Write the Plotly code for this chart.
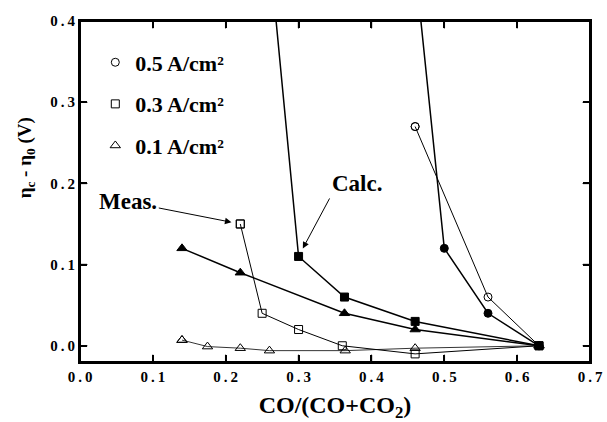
import plotly.graph_objects as go

# Measured (open markers)
meas05_x = [0.46, 0.56, 0.63]
meas05_y = [0.27, 0.06, 0.0]
meas03_x = [0.22, 0.25, 0.30, 0.36, 0.46, 0.63]
meas03_y = [0.15, 0.04, 0.02, 0.0, -0.01, 0.0]
meas01_x = [0.14, 0.175, 0.22, 0.26, 0.364, 0.46, 0.63]
meas01_y = [0.007, -0.001, -0.003, -0.006, -0.006, -0.003, 0.0]

# Calculated (filled markers)
calc05_x = [0.461, 0.50, 0.56, 0.63]
calc05_y = [0.46, 0.12, 0.04, 0.0]
calc03_x = [0.25, 0.30, 0.363, 0.46, 0.63]
calc03_y = [0.58, 0.11, 0.06, 0.03, 0.0]
calc01_x = [0.14, 0.22, 0.363, 0.46, 0.63]
calc01_y = [0.12, 0.09, 0.04, 0.02, 0.0]

legend_labels = ["0.5 A/cm²", "0.3 A/cm²", "0.1 A/cm²"]
symbols = ["circle", "square", "triangle-up"]

x_ticks = [0.0, 0.1, 0.2, 0.3, 0.4, 0.5, 0.6, 0.7]
y_ticks = [0.0, 0.1, 0.2, 0.3, 0.4]
x_range = [0.0, 0.7]
y_range = [-0.02, 0.4]

W, H = 607, 422
ML, MR, MT, MB = 80, 17, 21, 60
TICKLEN = 7

FONT = "Liberation Serif"
TS = "\u2009"
fig = go.Figure()

def add(x, y, sym, filled, lw):
    fig.add_trace(go.Scatter(
        x=x, y=y, mode="lines+markers", showlegend=False,
        line=dict(color="black", width=lw),
        marker=dict(symbol=sym if filled else sym + "-open",
                    size=8 if sym != "triangle-up" else 9,
                    color="black", line=dict(color="black", width=1)),
    ))

add(meas05_x, meas05_y, "circle", False, 1.0)
add(meas03_x, meas03_y, "square", False, 1.0)
add(meas01_x, meas01_y, "triangle-up", False, 0.8)
add(calc05_x, calc05_y, "circle", True, 1.5)
add(calc03_x, calc03_y, "square", True, 1.5)
add(calc01_x, calc01_y, "triangle-up", True, 1.5)

# legend entries (marker only), placed on the first measured point of each series
meas_first = [(meas05_x[0], meas05_y[0]), (meas03_x[0], meas03_y[0]), (meas01_x[0], meas01_y[0])]
for i, (lab, sym) in enumerate(zip(legend_labels, symbols)):
    fig.add_trace(go.Scatter(
        x=[meas_first[i][0]], y=[meas_first[i][1]], mode="markers",
        name="<b>" + lab + "</b>", legendgroup="g%d" % i,
        marker=dict(symbol=sym + "-open", size=8 if sym != "triangle-up" else 9,
                    color="black", line=dict(color="black", width=1)),
    ))

# frame and inside ticks drawn through the axes
px_x = (W - ML - MR) / (x_range[1] - x_range[0])
px_y = (H - MT - MB) / (y_range[1] - y_range[0])
dx = TICKLEN / px_x
dy = TICKLEN / px_y
fx = [x_range[0], x_range[1], x_range[1], x_range[0], x_range[0]]
fy = [y_range[0], y_range[0], y_range[1], y_range[1], y_range[0]]
tx, ty = [], []
for v in x_ticks:
    if x_range[0] < v < x_range[1]:
        tx += [v, v, None, v, v, None]
        ty += [y_range[0], y_range[0] + dy, None, y_range[1], y_range[1] - dy, None]
for v in y_ticks:
    if y_range[0] < v < y_range[1]:
        tx += [x_range[0], x_range[0] + dx, None, x_range[1], x_range[1] - dx, None]
        ty += [v, v, None, v, v, None]
fig.add_trace(go.Scatter(x=tx, y=ty, mode="lines+markers", showlegend=False,
                         line=dict(color="black", width=1.5),
                         marker=dict(size=1, color="black")))
fig.add_trace(go.Scatter(x=fx, y=fy, mode="lines+markers", showlegend=False,
                         line=dict(color="black", width=2),
                         marker=dict(size=2, color="black", symbol="square"), cliponaxis=False))

# labels with arrows
fig.add_annotation(x=meas03_x[0], y=meas03_y[0], ax=-112, ay=-22,
                   xref="x", yref="y", text="<b>Meas.</b>", showarrow=True, arrowhead=2,
                   arrowsize=1.3, arrowwidth=1, standoff=9, arrowcolor="black",
                   font=dict(family=FONT, size=23, color="black"))
fig.add_annotation(x=calc03_x[1], y=calc03_y[1], ax=31, ay=-58,
                   xref="x", yref="y", text="<b>Calc.</b>", showarrow=True, arrowhead=2,
                   xanchor="left", yanchor="bottom",
                   arrowsize=1.3, arrowwidth=1, standoff=9, arrowcolor="black",
                   font=dict(family=FONT, size=23, color="black"))
# y axis title
fig.add_annotation(x=-0.106, y=0.6, xref="paper", yref="paper", textangle=-90,
                   xanchor="center", yanchor="middle",
                   text="<b>η<sub>c</sub> - η<sub>0</sub> (V)</b>", showarrow=False,
                   font=dict(family=FONT, size=19, color="black"))

axis_common = dict(
    showline=True, linecolor="black", linewidth=2, mirror="ticks",
    ticks="inside", ticklen=TICKLEN, tickwidth=1.5, tickcolor="black",
    showgrid=False, zeroline=False, automargin=False,
    tickfont=dict(family=FONT, size=15, color="black"),
)

fig.update_xaxes(range=x_range, tickmode="array", tickvals=x_ticks,
                 ticktext=["<b>" + f"{v:.1f}".replace(".", TS + "." + TS) + "</b>" for v in x_ticks],
                 title=dict(text="<b>CO/(CO+CO<sub>2</sub>)</b>",
                            font=dict(family=FONT, size=24, color="black"), standoff=13),
                 **axis_common)
fig.update_yaxes(range=y_range, tickmode="array", tickvals=y_ticks,
                 ticktext=["<b>" + f"{v:.1f}".replace(".", TS + "." + TS) + "</b>" for v in y_ticks],
                 **axis_common)

fig.update_layout(
    width=W, height=H,
    margin=dict(l=ML, r=MR, t=MT, b=MB),
    plot_bgcolor="white", paper_bgcolor="white",
    showlegend=True,
    hovermode=False,
    legend=dict(x=0.03, y=0.94, xanchor="left", yanchor="top",
                bgcolor="rgba(0,0,0,0)", font=dict(family=FONT, size=22, color="black")),
)

fig.write_html("out.html")
